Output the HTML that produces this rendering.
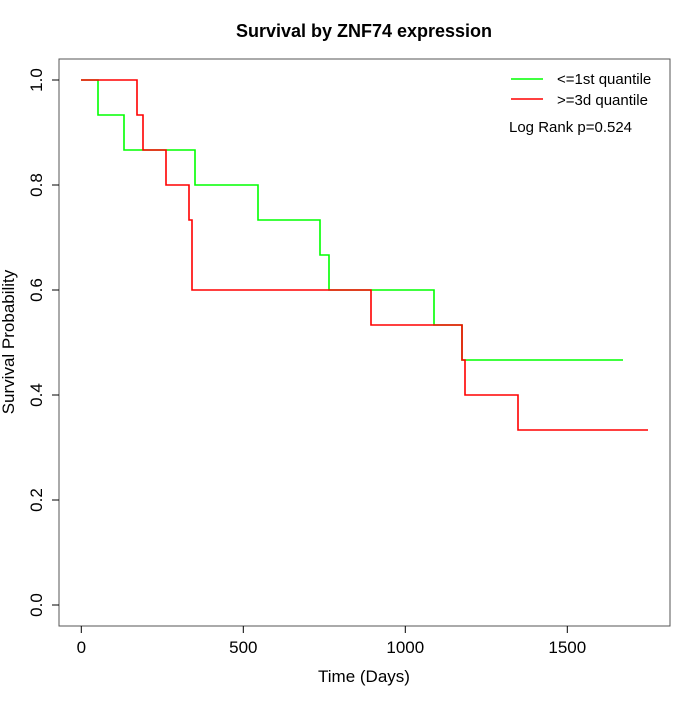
<!DOCTYPE html><html><head><style>body{margin:0;background:#fff}</style></head><body>
<svg width="700" height="700" xmlns="http://www.w3.org/2000/svg" font-family="Liberation Sans, sans-serif">
<rect width="700" height="700" fill="#fff"/>
<text x="364" y="37" text-anchor="middle" font-size="18" font-weight="bold">Survival by ZNF74 expression</text>
<rect x="59" y="59" width="611" height="567" fill="none" stroke="#555" stroke-width="1"/>
<g stroke="#000" stroke-width="1">
<line x1="81.3" y1="626" x2="81.3" y2="633"/><line x1="243.3" y1="626" x2="243.3" y2="633"/><line x1="405.3" y1="626" x2="405.3" y2="633"/><line x1="567.3" y1="626" x2="567.3" y2="633"/>
<line x1="52" y1="80" x2="59" y2="80"/><line x1="52" y1="185" x2="59" y2="185"/><line x1="52" y1="290" x2="59" y2="290"/><line x1="52" y1="395" x2="59" y2="395"/><line x1="52" y1="500" x2="59" y2="500"/><line x1="52" y1="605" x2="59" y2="605"/>
</g>
<g font-size="17" text-anchor="middle">
<text x="81.3" y="653">0</text><text x="243.3" y="653">500</text><text x="405.3" y="653">1000</text><text x="567.3" y="653">1500</text>
<text x="364" y="682">Time (Days)</text>
<g transform="translate(42,0)">
<text transform="translate(0,80) rotate(-90)">1.0</text><text transform="translate(0,185) rotate(-90)">0.8</text><text transform="translate(0,290) rotate(-90)">0.6</text><text transform="translate(0,395) rotate(-90)">0.4</text><text transform="translate(0,500) rotate(-90)">0.2</text><text transform="translate(0,605) rotate(-90)">0.0</text>
</g>
<text transform="translate(14,342) rotate(-90)">Survival Probability</text>
</g>
<polyline fill="none" stroke="#00ff00" stroke-width="1.6" points="81,80 98,80 98,115 124,115 124,150 195,150 195,185 258,185 258,220 320,220 320,255 329,255 329,290 434,290 434,325 462,325 462,360 623,360"/>
<polyline fill="none" stroke="#ff0000" stroke-width="1.6" points="81,80 137,80 137,115 143,115 143,150 166,150 166,185 189,185 189,220 192,220 192,290 371,290 371,325 462,325 462,360 465,360 465,395 518,395 518,430 648,430"/>
<line x1="511" y1="79" x2="543" y2="79" stroke="#00ff00" stroke-width="1.6"/>
<line x1="511" y1="99" x2="543" y2="99" stroke="#ff0000" stroke-width="1.6"/>
<g font-size="15">
<text x="557" y="84">&lt;=1st quantile</text>
<text x="557" y="105">&gt;=3d quantile</text>
<text x="509" y="132">Log Rank p=0.524</text>
</g>
</svg>
</body></html>
